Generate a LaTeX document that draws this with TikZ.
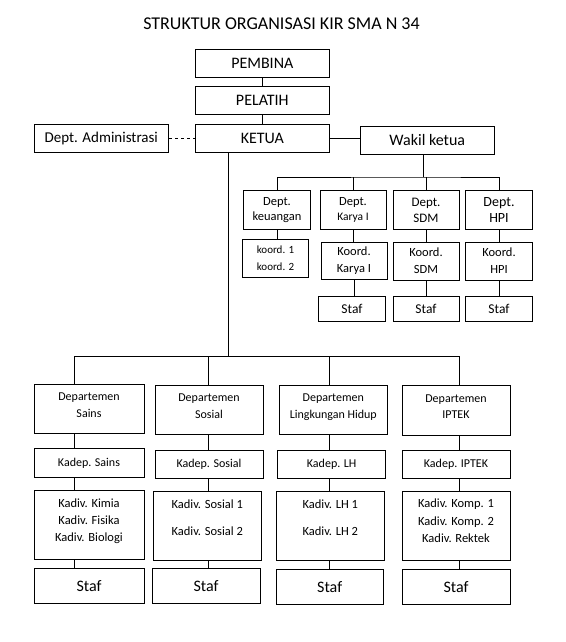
\documentclass[tikz,border=0pt]{standalone}
\usepackage{fontspec}
\setmainfont{Carlito}
\usepackage{tikz}
\usetikzlibrary{positioning}
\newcommand{\ukuran}[2]{\fontsize{#1}{#2}\selectfont}
\tikzset{
  kotak/.style={draw,line width=0.9pt,inner sep=1pt,align=center},
  atas/.style={kotak,minimum width=134,minimum height=28,font=\ukuran{16}{19}},
  dept/.style={kotak,minimum height=38.5,font=\ukuran{12.5}{15}},
  koord/.style={kotak,minimum height=38,font=\ukuran{12.5}{16.7}},
  staf/.style={kotak,minimum height=25.3,font=\ukuran{13.5}{16}},
  bidang/.style={kotak,minimum width=108,font=\ukuran{12}{16.7}},
}

\begin{document}
\begin{tikzpicture}[x=1pt,y=-1pt]\begin{scope}[line width=0.9pt]
\useasboundingbox (0,0) rectangle (565,642);
\draw(281.5,23.5) node (judul) {\ukuran{18}{21}STRUKTUR ORGANISASI KIR SMA N 34};
\draw(262.3,63.3) node[atas] (pembina) {PEMBINA};
\draw(262.3,100.3) node[atas] (pelatih) {PELATIH};
\draw(262.3,138.3) node[atas] (ketua) {KETUA};
\draw(101.3,138.3) node[atas,minimum width=134.7,font=\ukuran{15}{18}] (adm) {Dept. Administrasi};
\draw(427.3,140.3) node[atas] (wakil) {Wakil ketua};
\draw(277,210) node[dept,minimum width=67] (keu) {Dept.\\keuangan};
\draw(353,210) node[dept,minimum width=66] (karya) {Dept.\\{\ukuran{11.5}{15}Karya I}};
\draw(426,210) node[dept,minimum width=66,font=\ukuran{13}{16}] (sdm) {Dept.\\SDM};
\draw(499,210) node[dept,minimum width=67,font=\ukuran{14}{16.5}] (hpi) {Dept.\\HPI};
\draw(275.5,258.3) node[koord,minimum width=66.4,font=\ukuran{11}{16.7}] (koord12) {koord. 1\\koord. 2};
\draw(354,261) node[koord,minimum width=66,minimum height=36.5] (kkarya) {Koord.\\Karya I};
\draw(426,261) node[koord,minimum width=66] (ksdm) {Koord.\\SDM};
\draw(499,261) node[koord,minimum width=67] (khpi) {Koord.\\HPI};
\draw(352,308.7) node[staf,minimum width=67] (skarya) {Staf};
\draw(426,308.7) node[staf,minimum width=66] (ssdm) {Staf};
\draw(499,308.7) node[staf,minimum width=67] (shpi) {Staf};
\draw(89,409) node[bidang,minimum width=110,minimum height=49,text depth=8] (dsains) {Departemen\\Sains};
\draw(209,410) node[bidang,minimum height=49,text depth=8] (dsosial) {Departemen\\Sosial};
\draw(333.3,410) node[bidang,minimum height=49.5,text depth=8] (dlh) {Departemen\\Lingkungan Hidup};
\draw(456,410.5) node[bidang,minimum height=49.5,text depth=8] (diptek) {Departemen\\IPTEK};
\draw(89,463) node[bidang,minimum width=110,minimum height=29.4] (ksains) {Kadep. Sains};
\draw(209,464.3) node[bidang,minimum height=28] (ksosial) {Kadep. Sosial};
\draw(331.7,464.3) node[bidang,minimum height=28] (klh) {Kadep. LH};
\draw(456,464.3) node[bidang,minimum height=28] (kiptek) {Kadep. IPTEK};
\draw(89,524.7) node[bidang,minimum width=110,minimum height=69.3,text depth=9,font=\ukuran{12.5}{16.7}] (vsains) {Kadiv. Kimia\\Kadiv. Fisika\\Kadiv. Biologi};
\draw(207.3,526) node[bidang,minimum height=69.4,text depth=17,font=\ukuran{12.5}{27}] (vsosial) {Kadiv. Sosial 1\\Kadiv. Sosial 2};
\draw(330.3,525.7) node[bidang,minimum width=107.3,minimum height=69,text depth=17,font=\ukuran{12.5}{27}] (vlh) {Kadiv. LH 1\\Kadiv. LH 2};
\draw(456,525.7) node[bidang,minimum height=69,text depth=10,font=\ukuran{12.5}{17.8}] (viptek) {Kadiv. Komp. 1\\Kadiv. Komp. 2\\Kadiv. Rektek};
\draw(89,585.8) node[bidang,minimum width=110,minimum height=35,font=\ukuran{16}{19}] (tsains) {Staf};
\draw(206,585.8) node[bidang,minimum height=35,font=\ukuran{16}{19}] (tsosial) {Staf};
\draw(329.7,586.7) node[bidang,minimum width=107.3,minimum height=35,font=\ukuran{16}{19}] (tlh) {Staf};
\draw(456,586.7) node[bidang,minimum height=35,font=\ukuran{16}{19}] (tiptek) {Staf};
\draw(pembina) -- (pelatih);
\draw(pelatih) -- (ketua);
\draw[dash pattern=on 3pt off 3pt] (adm) -- (ketua);
\draw(ketua.east) -- (ketua.east -| wakil.west);
\coordinate (wb) at (423,177);
\draw(wakil.south -| wb) -- (wb);
\draw(keu.north) |- (wb) -| (hpi.north);
\draw(karya.north) -- (karya.north |- wb);
\draw(sdm.north) -- (sdm.north |- wb);
\foreach \a/\b in {keu/koord12,karya/kkarya,sdm/ksdm,hpi/khpi,kkarya/skarya,ksdm/ssdm,khpi/shpi}
  \draw(\a.south) -- (\a.south |- \b.north);
\coordinate (kb) at (228,356);
\draw(ketua.south -| kb) -- (kb);
\foreach \c/\x in {sains/74,sosial/208,lh/329,iptek/459}
  \coordinate (bus\c) at (\x,356);
\draw(bussains) -- (busiptek);
\foreach \c in {sains,sosial,lh,iptek}{
  \draw(bus\c) -- (bus\c |- d\c.north);
  \draw(d\c.south -| bus\c) -- (k\c.north -| bus\c);
  \draw(k\c.south -| bus\c) -- (v\c.north -| bus\c);
  \draw(v\c.south -| bus\c) -- (t\c.north -| bus\c);
}
\end{scope}\end{tikzpicture}
\end{document}
